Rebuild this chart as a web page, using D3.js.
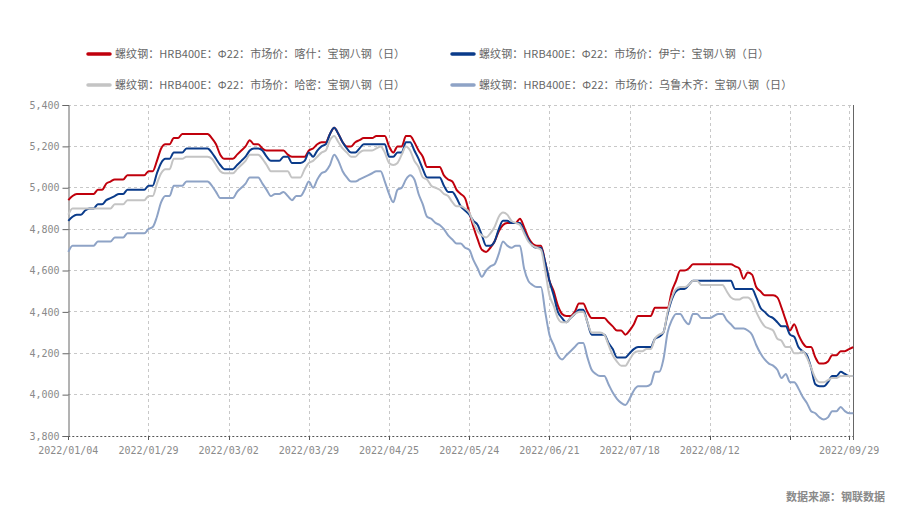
<!DOCTYPE html>
<html><head><meta charset="utf-8">
<script src="https://cdn.jsdelivr.net/npm/d3@7"></script>
<style>html,body{margin:0;padding:0;background:#fff;}svg{display:block;}</style>
</head><body><div id="chart"></div>
<script>
// Trading-day categories (weekdays minus holidays, plus adjusted working weekends)
const startDate = "2022-01-04", endDate = "2022-09-30";
const holidays = ["2022-01-31","2022-02-01","2022-02-02","2022-02-03","2022-02-04","2022-04-04","2022-04-05","2022-05-02","2022-05-03","2022-05-04","2022-06-03","2022-09-12"];
const extraWorkdays = ["2022-01-29","2022-01-30","2022-04-02","2022-04-24","2022-05-07"];
const tickLabelIdx = [0,19,38,57,76,95,114,133,152,185];
const tickIdx = [0,19,38,57,76,95,114,133,152,171,185];
const yTicks = [3800,4000,4200,4400,4600,4800,5000,5200,5400];

const seriesNames = [
  "螺纹钢：HRB400E：Φ22：市场价：喀什：宝钢八钢（日）",
  "螺纹钢：HRB400E：Φ22：市场价：伊宁：宝钢八钢（日）",
  "螺纹钢：HRB400E：Φ22：市场价：哈密：宝钢八钢（日）",
  "螺纹钢：HRB400E：Φ22：市场价：乌鲁木齐：宝钢八钢（日）"
];
const seriesColors = ["#c0000c","#0a3b8a","#c4c4c4","#8ea3c6"];

const kashgar = [4940,4960,4970,4970,4970,4970,4970,4990,4990,5020,5030,5040,5040,5040,5060,5060,5060,5060,5060,5080,
5080,5130,5190,5210,5210,5240,5240,5260,5260,5260,5260,5260,5260,5260,5240,5210,5160,5140,5140,5140,
5160,5180,5200,5230,5210,5210,5190,5180,5180,5180,5180,5180,5160,5150,5150,5150,5150,5180,5190,5210,
5220,5220,5260,5290,5260,5220,5200,5200,5220,5230,5240,5240,5240,5250,5250,5250,5200,5170,5200,5200,
5250,5250,5220,5180,5150,5100,5100,5100,5100,5060,5040,5030,4990,4970,4950,4880,4810,4750,4700,4690,
4710,4740,4790,4820,4830,4830,4830,4850,4810,4760,4730,4720,4720,4640,4550,4500,4430,4390,4380,4380,
4400,4440,4440,4400,4370,4370,4370,4370,4350,4330,4310,4310,4290,4310,4340,4380,4380,4380,4380,4420,
4420,4420,4420,4500,4550,4600,4600,4610,4630,4630,4630,4630,4630,4630,4630,4630,4630,4630,4620,4610,
4560,4590,4580,4520,4500,4480,4480,4480,4470,4420,4360,4310,4340,4290,4250,4230,4230,4180,4150,4150,
4160,4190,4190,4210,4210,4220,4230];
const yining = [4840,4860,4870,4870,4890,4900,4900,4920,4920,4940,4950,4960,4970,4970,4990,4990,4990,4990,4990,5010,
5010,5070,5120,5140,5140,5170,5170,5170,5190,5190,5190,5190,5190,5190,5170,5140,5110,5090,5090,5090,
5110,5130,5150,5180,5190,5190,5180,5150,5130,5130,5130,5150,5150,5120,5120,5120,5130,5170,5150,5180,
5200,5210,5260,5290,5260,5220,5190,5170,5170,5190,5210,5210,5210,5210,5210,5210,5150,5150,5170,5170,
5220,5220,5180,5140,5090,5050,5050,5050,5050,5010,4980,4980,4950,4910,4890,4870,4840,4820,4770,4720,
4720,4740,4800,4840,4840,4830,4830,4830,4790,4750,4720,4710,4710,4640,4550,4480,4400,4370,4350,4370,
4390,4410,4410,4350,4290,4290,4290,4290,4250,4220,4180,4180,4180,4200,4220,4230,4230,4230,4230,4270,
4280,4300,4390,4460,4500,4510,4510,4530,4550,4550,4550,4550,4550,4550,4550,4550,4550,4550,4510,4510,
4510,4510,4510,4470,4420,4400,4380,4370,4350,4330,4330,4290,4280,4230,4210,4190,4130,4050,4040,4040,
4060,4090,4090,4110,4100,4090,4090];
const hami = [4870,4900,4900,4900,4900,4900,4900,4900,4900,4900,4900,4920,4920,4920,4940,4940,4940,4940,4940,4960,
4960,5020,5070,5090,5090,5140,5140,5140,5150,5150,5150,5150,5150,5150,5140,5110,5080,5070,5070,5070,
5090,5110,5130,5160,5160,5160,5140,5110,5080,5080,5080,5080,5080,5050,5050,5050,5090,5120,5130,5150,
5170,5180,5230,5250,5220,5190,5170,5150,5150,5170,5180,5180,5180,5190,5200,5170,5120,5110,5120,5160,
5200,5180,5130,5100,5050,5040,5010,5000,4990,4970,4960,4930,4910,4910,4900,4880,4830,4790,4770,4760,
4780,4810,4860,4880,4870,4840,4830,4820,4780,4740,4720,4710,4700,4600,4480,4430,4370,4350,4350,4370,
4390,4400,4400,4350,4300,4300,4300,4290,4240,4190,4160,4140,4140,4170,4200,4210,4210,4220,4220,4270,
4290,4300,4400,4470,4510,4520,4520,4530,4550,4550,4530,4530,4530,4530,4530,4530,4500,4470,4460,4460,
4470,4470,4450,4400,4360,4330,4320,4310,4270,4260,4230,4230,4200,4200,4210,4180,4130,4080,4060,4060,
4070,4080,4080,4090,4090,4090,4090];
const urumqi = [4690,4720,4720,4720,4720,4720,4720,4740,4740,4740,4740,4760,4760,4760,4780,4780,4780,4780,4780,4800,
4810,4860,4930,4960,4960,5010,5010,5010,5030,5030,5030,5030,5030,5030,5010,4980,4950,4950,4950,4950,
4980,5000,5020,5050,5050,5050,5020,4990,4960,4970,4970,4980,4960,4940,4960,4960,4990,5030,5000,5040,
5070,5080,5110,5160,5130,5080,5050,5030,5030,5040,5050,5060,5070,5080,5080,5030,4970,4930,4990,5000,
5040,5060,5040,4970,4920,4860,4850,4830,4820,4800,4770,4750,4730,4730,4710,4700,4650,4610,4570,4600,
4620,4630,4680,4740,4720,4710,4720,4720,4610,4550,4530,4520,4520,4400,4290,4240,4190,4170,4190,4210,
4230,4250,4250,4180,4120,4100,4090,4090,4050,4010,3980,3960,3950,3980,4020,4040,4040,4040,4050,4110,
4110,4170,4300,4360,4390,4390,4360,4340,4390,4390,4370,4370,4370,4380,4390,4390,4360,4340,4320,4320,
4320,4310,4290,4240,4200,4170,4150,4140,4120,4080,4100,4060,4060,4030,3990,3960,3920,3910,3890,3880,
3890,3920,3920,3940,3920,3910,3910];
const seriesValues = [kashgar, yining, hami, urumqi];

// build category labels
const fmtKey = d3.timeFormat("%Y-%m-%d"), fmtLbl = d3.timeFormat("%Y/%m/%d");
const dates = [];
for (let d = new Date(startDate + "T00:00:00"); fmtKey(d) <= endDate; d = d3.timeDay.offset(d, 1)) {
  const k = fmtKey(d), wd = d.getDay();
  const work = (wd !== 0 && wd !== 6 && !holidays.includes(k)) || extraWorkdays.includes(k);
  if (work) dates.push(fmtLbl(d));
}

const W = 912, H = 516;
const margin = {left: 68.3, right: 912 - 853.3, top: 105, bottom: 516 - 436};
const svg = d3.select("#chart").append("svg").attr("width", W).attr("height", H);

const x = d3.scaleLinear().domain([0, dates.length - 1]).range([margin.left, W - margin.right]);
const y = d3.scaleLinear().domain([3800, 5400]).range([H - margin.bottom, margin.top]);

const monoFont = "'DejaVu Sans Mono', 'Liberation Mono', monospace";
const cjkFont = "'Noto Sans CJK SC', 'Noto Sans', sans-serif";

// horizontal grid
svg.append("g").selectAll("line").data(yTicks.filter(v => v !== 3800)).join("line")
  .attr("x1", x(0)).attr("x2", x(dates.length - 1))
  .attr("y1", d => y(d)).attr("y2", d => y(d))
  .attr("stroke", "#c8c8c8").attr("stroke-width", 1).attr("stroke-dasharray", "3,3")
  .attr("shape-rendering", "crispEdges");
// vertical grid
svg.append("g").selectAll("line").data(tickIdx.filter(i => i !== 0)).join("line")
  .attr("x1", d => Math.round(x(d)) + 0.5).attr("x2", d => Math.round(x(d)) + 0.5)
  .attr("y1", y(5400)).attr("y2", y(3800))
  .attr("stroke", "#c8c8c8").attr("stroke-width", 1).attr("stroke-dasharray", "3,3");

// bottom axis (dashed) with ticks
svg.append("line").attr("x1", x(0)).attr("x2", x(dates.length - 1))
  .attr("y1", Math.round(y(3800)) + 0.5).attr("y2", Math.round(y(3800)) + 0.5)
  .attr("stroke", "#555").attr("stroke-width", 1).attr("stroke-dasharray", "2,2");
svg.append("g").selectAll("line").data(tickIdx).join("line")
  .attr("x1", d => Math.round(x(d)) + 0.5).attr("x2", d => Math.round(x(d)) + 0.5)
  .attr("y1", y(3800)).attr("y2", y(3800) + 4)
  .attr("stroke", "#555").attr("stroke-width", 1);
svg.append("g").selectAll("text").data(tickLabelIdx).join("text")
  .attr("x", d => x(d)).attr("y", y(3800) + 18)
  .attr("text-anchor", "middle").attr("font-family", monoFont).attr("font-size", 10)
  .attr("fill", "#8a8a8a").text(d => dates[d]);

// left y axis
const yAxis = d3.axisLeft(y).tickValues(yTicks).tickSize(6).tickPadding(3).tickFormat(d3.format(","));
const ga = svg.append("g").attr("transform", `translate(${Math.round(x(0)) + 0.5},0)`).call(yAxis);
ga.select(".domain").attr("stroke", "#666");
ga.selectAll(".tick line").attr("stroke", "#666");
ga.selectAll(".tick text").attr("fill", "#8a8a8a").attr("font-family", monoFont).attr("font-size", 10);
// right axis line
svg.append("line").attr("x1", Math.round(x(dates.length - 1)) + 0.5).attr("x2", Math.round(x(dates.length - 1)) + 0.5)
  .attr("y1", y(5400)).attr("y2", y(3800) + 4).attr("stroke", "#666").attr("stroke-width", 1);

// lines
const line = d3.line().x((d, i) => x(i)).y(d => y(d)).curve(d3.curveMonotoneX);
svg.append("g").selectAll("path").data(seriesValues).join("path")
  .attr("d", d => line(d)).attr("fill", "none")
  .attr("stroke", (d, i) => seriesColors[i]).attr("stroke-width", 2)
  .attr("stroke-linejoin", "round");

// legend (text width as a full-/half-width grid font)
const legendPos = [[88, 54], [452, 54], [88, 85], [452, 85]];
const charW = 11.6;
const textWidth = s => Array.from(s).reduce((w, c) => w + (c.charCodeAt(0) > 0x2000 && c !== "Φ" ? charW : charW / 2), 0);
const lg = svg.append("g").selectAll("g").data(seriesNames).join("g")
  .attr("transform", (d, i) => `translate(${legendPos[i][0]},${legendPos[i][1]})`);
lg.append("line").attr("x1", 0).attr("x2", 22).attr("y1", 0).attr("y2", 0)
  .attr("stroke", (d, i) => seriesColors[i]).attr("stroke-width", 3.5).attr("stroke-linecap", "round");
lg.append("text").attr("x", 27).attr("y", 4).attr("font-family", cjkFont).attr("font-size", 11)
  .attr("fill", "#666").attr("textLength", d => textWidth(d)).attr("lengthAdjust", "spacing")
  .text(d => d);

// source
svg.append("text").attr("x", 885).attr("y", 501).attr("text-anchor", "end")
  .attr("font-family", cjkFont).attr("font-size", 11).attr("fill", "#8a8a8a").attr("font-weight", "bold")
  .text("数据来源：钢联数据");
</script></body></html>
